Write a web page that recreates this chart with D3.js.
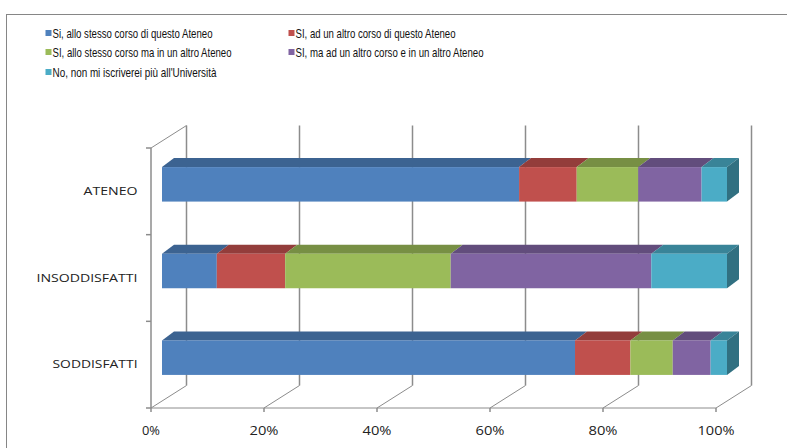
<!DOCTYPE html>
<html><head><meta charset="utf-8">
<script src="https://cdn.jsdelivr.net/npm/d3@7"></script>
<style>html,body{margin:0;padding:0;background:#fff;overflow:hidden}</style>
</head><body>
<svg id="chart" width="787" height="448"></svg>
<script>
const categories = ["ATENEO", "INSODDISFATTI", "SODDISFATTI"];
const seriesNames = [
  "Si, allo stesso corso di questo Ateneo",
  "SI, ad un altro corso di questo Ateneo",
  "SI, allo stesso corso ma in un altro Ateneo",
  "SI, ma ad un altro corso e in un altro Ateneo",
  "No, non mi iscriverei più all'Università"
];
const sameCourseSameUni   = [63.2, 9.7, 73.1];
const otherCourseSameUni  = [10.2, 12.1, 9.8];
const sameCourseOtherUni  = [10.9, 29.3, 7.5];
const otherCourseOtherUni = [11.2, 35.5, 6.7];
const noUniversity        = [4.5, 13.4, 2.9];
const seriesValues = [sameCourseSameUni, otherCourseSameUni, sameCourseOtherUni, otherCourseOtherUni, noUniversity];
const tickValues = [0, 0.2, 0.4, 0.6, 0.8, 1];
const colors = ["#4F81BD", "#C0504D", "#9BBB59", "#8064A2", "#4BACC6"];

const svg = d3.select("#chart");
const darker = (c, k) => d3.color(c).darker(k).formatHex();

// border
svg.append("rect").attr("x", 6.5).attr("y", 14.5).attr("width", 900).attr("height", 600)
  .attr("fill", "none").attr("stroke", "#868686").attr("stroke-width", 1);

// legend
const legendFont = "'Liberation Sans',Arial,sans-serif";
const legendPos = [[45.5, 33], [288.5, 33], [45.5, 52], [288.5, 52], [45.5, 72]];
const legendWidths = [160, 160, 179, 188, 164];
seriesNames.forEach((n, i) => {
  const [lx, ly] = legendPos[i];
  svg.append("rect").attr("x", lx).attr("y", ly - 3).attr("width", 6).attr("height", 6).attr("fill", colors[i]);
  svg.append("text").attr("x", lx + 7).attr("y", ly).attr("dy", "0.35em")
    .attr("font-family", legendFont).attr("font-size", 13.5).attr("fill", "#111")
    .attr("textLength", legendWidths[i]).attr("lengthAdjust", "spacingAndGlyphs").text(n);
});

// 3D geometry
const x = d3.scaleLinear().domain([0, 1]).range([151, 716]);
const y = d3.scaleBand().domain(categories).range([148, 408]).paddingInner(0).paddingOuter(0);
const wallDx = 35.5, wallDy = -22.5;
const barOffDx = 11, barOffDy = -7;
const barDx = 12, barDy = -9;
const barH = 34.5;
const floorY = 408;
const topY = 148;
const grid = "#8c8c8c";

const g = svg.append("g");
tickValues.forEach(t => {
  g.append("line").attr("x1", x(t) + wallDx).attr("x2", x(t) + wallDx)
    .attr("y1", topY + wallDy).attr("y2", floorY + wallDy)
    .attr("stroke", grid).attr("stroke-width", 1.5);
  g.append("line").attr("x1", x(t)).attr("y1", floorY)
    .attr("x2", x(t) + wallDx).attr("y2", floorY + wallDy)
    .attr("stroke", grid).attr("stroke-width", 1);
  g.append("line").attr("x1", x(t)).attr("x2", x(t)).attr("y1", floorY).attr("y2", floorY + 4)
    .attr("stroke", grid).attr("stroke-width", 1.5);
});
g.append("line").attr("x1", x(0)).attr("x2", x(1)).attr("y1", floorY).attr("y2", floorY)
  .attr("stroke", grid).attr("stroke-width", 1);
g.append("line").attr("x1", x(0)).attr("x2", x(0)).attr("y1", topY).attr("y2", floorY)
  .attr("stroke", grid).attr("stroke-width", 1.5);
g.append("line").attr("x1", x(0)).attr("y1", topY).attr("x2", x(0) + wallDx).attr("y2", topY + wallDy)
  .attr("stroke", grid).attr("stroke-width", 1);
const catEdges = categories.map(c => y(c)).concat([y.range()[1]]);
catEdges.forEach(v => {
  g.append("line").attr("x1", x(0) - 5).attr("x2", x(0)).attr("y1", v).attr("y2", v)
    .attr("stroke", grid).attr("stroke-width", 1.5);
});

// bars
categories.forEach((c, ci) => {
  const cy = y(c) + y.bandwidth() / 2 + barOffDy;
  const top = cy - barH / 2, bot = cy + barH / 2;
  let cum = 0;
  const segs = seriesValues.map((s, si) => {
    const v0 = cum; cum += s[ci];
    return { si, v0, v1: cum };
  });
  const total = cum;
  segs.forEach((sg, k) => {
    const x0 = x(sg.v0 / total) + barOffDx, x1 = x(sg.v1 / total) + barOffDx;
    const col = colors[sg.si];
    g.append("path").attr("d", `M${x0},${top}L${x0 + barDx},${top + barDy}L${x1 + barDx},${top + barDy}L${x1},${top}Z`)
      .attr("fill", darker(col, 0.75));
    if (k === segs.length - 1) {
      g.append("path").attr("d", `M${x1},${top}L${x1 + barDx},${top + barDy}L${x1 + barDx},${bot + barDy}L${x1},${bot}Z`)
        .attr("fill", darker(col, 1.2));
    }
    g.append("rect").attr("x", x0).attr("y", top).attr("width", x1 - x0).attr("height", barH).attr("fill", col);
  });
});

// category labels
const axisFont = "'Open Sans','DejaVu Sans',sans-serif";
const catWidths = { "ATENEO": 54, "INSODDISFATTI": 101, "SODDISFATTI": 85 };
categories.forEach(c => {
  svg.append("text").attr("x", 137.5).attr("y", y(c) + y.bandwidth() / 2 - 0.5).attr("dy", "0.35em")
    .attr("text-anchor", "end").attr("font-family", axisFont).attr("font-size", 11.5).attr("fill", "#222")
    .attr("textLength", catWidths[c]).attr("lengthAdjust", "spacingAndGlyphs").text(c);
});
const fmt = d3.format(".0%");
const tickWidth = { 2: 18, 3: 29, 4: 37 };
tickValues.forEach(t => {
  const s = fmt(t);
  svg.append("text").attr("x", x(t)).attr("y", 430.5).attr("dy", "0.35em")
    .attr("text-anchor", "middle").attr("font-family", axisFont).attr("font-size", 12.5).attr("fill", "#222")
    .attr("textLength", tickWidth[s.length]).attr("lengthAdjust", "spacingAndGlyphs").text(s);
});
</script>
</body></html>
